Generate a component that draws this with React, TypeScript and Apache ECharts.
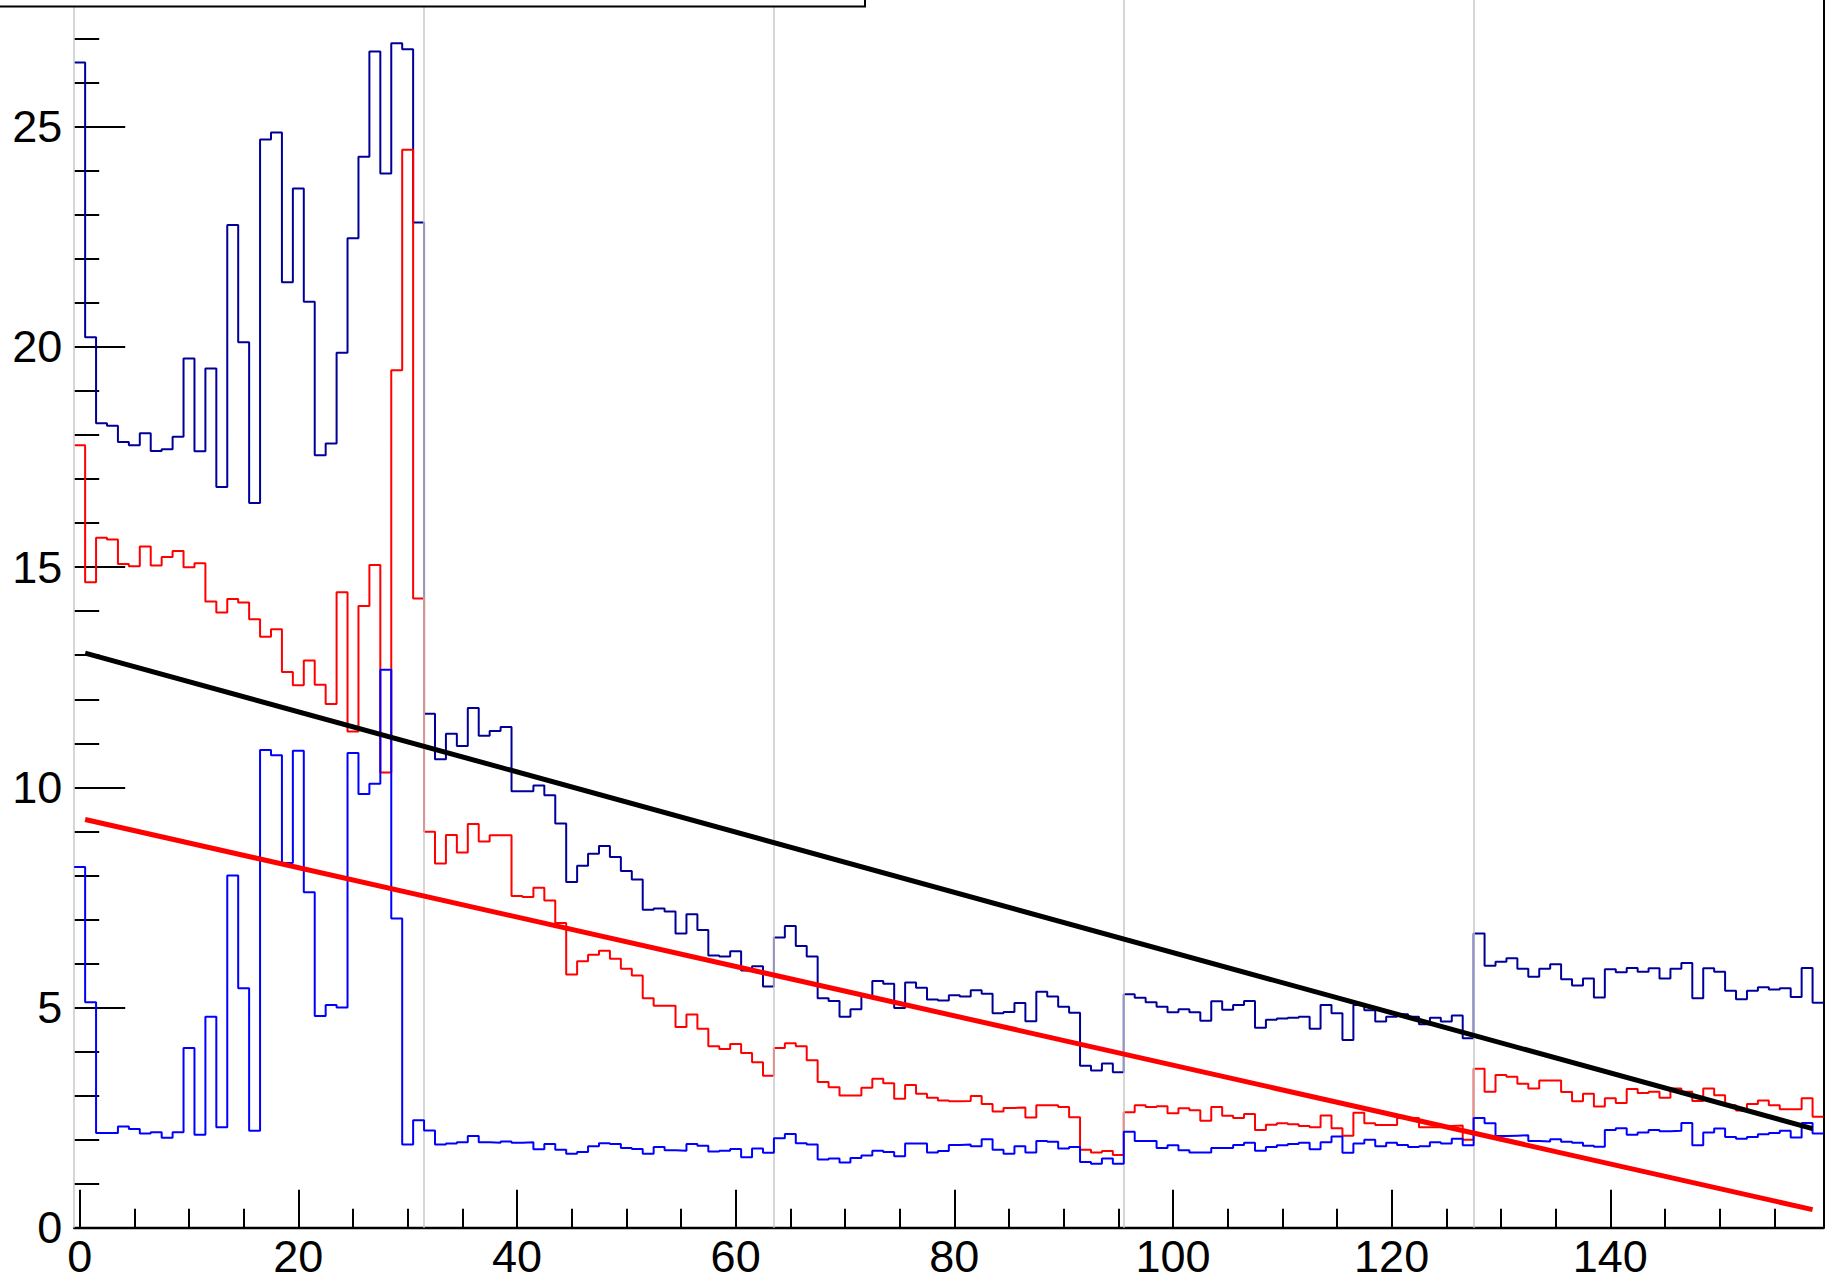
import React, { useEffect, useRef } from "react";
import * as echarts from "echarts";

// Bin contents (160 bins, centred on 0..159, width 1)
const darkBlueHist = [
  26.46, 20.22, 18.27, 18.21, 17.84, 17.77, 18.04, 17.64, 17.68, 17.96,
  19.74, 17.63, 19.51, 16.82, 22.77, 20.11, 16.46, 24.71, 24.87, 21.47,
  23.6, 21.03, 17.54, 17.81, 19.87, 22.47, 24.32, 26.71, 23.94, 26.9,
  26.76, 22.83, 11.67, 10.64, 11.22, 10.94, 11.8, 11.17, 11.28, 11.37,
  9.91, 9.91, 10.04, 9.82, 9.18, 7.85, 8.22, 8.49, 8.67, 8.42,
  8.1, 7.91, 7.22, 7.25, 7.18, 6.68, 7.12, 6.76, 6.18, 6.16,
  6.28, 5.84, 5.94, 5.48, 6.59, 6.85, 6.4, 6.16, 5.21, 5.15,
  4.79, 4.96, 5.26, 5.6, 5.54, 4.99, 5.57, 5.45, 5.18, 5.16,
  5.28, 5.25, 5.39, 5.31, 4.87, 4.9, 5.1, 4.69, 5.36, 5.25,
  5.02, 4.88, 3.68, 3.57, 3.73, 3.53, 5.3, 5.22, 5.12, 5.02,
  4.89, 4.96, 4.89, 4.7, 5.14, 4.95, 5.06, 5.15, 4.54, 4.72,
  4.75, 4.77, 4.79, 4.52, 5.06, 4.87, 4.26, 5.06, 4.94, 4.68,
  4.79, 4.85, 4.79, 4.62, 4.77, 4.68, 4.82, 4.3, 6.68, 5.95,
  6.04, 6.12, 5.88, 5.7, 5.88, 5.98, 5.64, 5.5, 5.66, 5.23,
  5.87, 5.8, 5.9, 5.81, 5.89, 5.66, 5.88, 6.01, 5.21, 5.89,
  5.81, 5.38, 5.19, 5.38, 5.46, 5.41, 5.44, 5.24, 5.9, 5.11,
];

const redHist = [
  17.77, 14.66, 15.67, 15.63, 15.07, 15.02, 15.47, 15.04, 15.23, 15.37,
  15.0, 15.09, 14.22, 13.97, 14.28, 14.2, 13.82, 13.42, 13.59, 12.62,
  12.32, 12.88, 12.33, 11.89, 14.43, 11.27, 14.12, 15.05, 10.34, 19.47,
  24.48, 14.29, 8.99, 8.27, 8.92, 8.52, 9.17, 8.77, 8.91, 8.91,
  7.53, 7.51, 7.72, 7.43, 6.92, 5.75, 6.05, 6.2, 6.29, 6.11,
  5.88, 5.73, 5.21, 5.04, 5.04, 4.56, 4.84, 4.52, 4.12, 4.06,
  4.17, 3.97, 3.76, 3.45, 4.08, 4.19, 4.12, 3.8, 3.31, 3.19,
  3.0, 3.0, 3.18, 3.38, 3.28, 2.93, 3.24, 3.04, 2.95, 2.89,
  2.87, 2.88, 2.99, 2.81, 2.64, 2.72, 2.73, 2.5, 2.78, 2.78,
  2.74, 2.51, 1.77, 1.71, 1.74, 1.65, 2.62, 2.78, 2.74, 2.76,
  2.6, 2.71, 2.67, 2.43, 2.74, 2.54, 2.49, 2.58, 2.22, 2.34,
  2.37, 2.35, 2.31, 2.28, 2.55, 2.26, 2.09, 2.61, 2.37, 2.33,
  2.33, 2.49, 2.49, 2.28, 2.28, 2.31, 2.32, 2.0, 3.61, 3.09,
  3.47, 3.43, 3.27, 3.16, 3.34, 3.34, 3.08, 2.87, 3.04, 2.75,
  2.94, 2.83, 3.15, 3.06, 3.09, 2.95, 3.16, 3.09, 2.88, 3.16,
  3.01, 2.78, 2.66, 2.81, 2.89, 2.78, 2.69, 2.69, 2.94, 2.52,
];

const blueHist = [
  8.19, 5.12, 2.15, 2.15, 2.3, 2.24, 2.14, 2.17, 2.04, 2.17,
  4.08, 2.11, 4.79, 2.28, 8.0, 5.44, 2.2, 10.85, 10.73, 8.28,
  10.83, 7.62, 4.81, 5.06, 5.0, 10.78, 9.85, 10.08, 12.67, 7.02,
  1.89, 2.44, 2.21, 1.89, 1.91, 1.94, 2.08, 1.94, 1.93, 1.96,
  1.93, 1.94, 1.78, 1.9, 1.77, 1.68, 1.72, 1.85, 1.92, 1.9,
  1.81, 1.79, 1.68, 1.83, 1.76, 1.75, 1.9, 1.86, 1.73, 1.75,
  1.79, 1.6, 1.8, 1.7, 2.03, 2.13, 1.92, 1.89, 1.55, 1.57,
  1.48, 1.58, 1.64, 1.75, 1.72, 1.62, 1.91, 1.91, 1.71, 1.74,
  1.88, 1.89, 1.85, 2.01, 1.77, 1.68, 1.85, 1.71, 1.97, 1.95,
  1.8, 1.83, 1.49, 1.45, 1.57, 1.45, 2.18, 1.97, 1.97, 1.81,
  1.87, 1.76, 1.71, 1.71, 1.81, 1.81, 1.88, 1.93, 1.75, 1.83,
  1.87, 1.9, 1.93, 1.78, 1.94, 2.07, 1.7, 1.91, 2.0, 1.85,
  1.93, 1.88, 1.83, 1.85, 1.94, 1.91, 2.02, 1.87, 2.49, 2.37,
  2.08, 2.09, 2.1, 1.97, 1.96, 2.01, 1.95, 1.93, 1.86, 1.84,
  2.22, 2.26, 2.11, 2.16, 2.22, 2.19, 2.2, 2.38, 1.87, 2.16,
  2.25, 2.06, 2.02, 2.06, 2.12, 2.15, 2.2, 2.05, 2.38, 2.14,
];

// Straight fit lines (x range and end values)
const fitX = [0.5, 158.5];
const blackFitY = [13.05, 2.25];
const redFitY = [9.27, 0.41];

// Axis ticks / labels
const xMajorTicks = [0, 20, 40, 60, 80, 100, 120, 140];
const xMinorTicks = [
  5, 10, 15, 25, 30, 35, 45, 50, 55, 65, 70, 75, 85, 90, 95,
  105, 110, 115, 125, 130, 135, 145, 150, 155,
];
const yMajorTicks = [0, 5, 10, 15, 20, 25];
const yMinorTicks = [
  1, 2, 3, 4, 6, 7, 8, 9, 11, 12, 13, 14, 16, 17, 18, 19,
  21, 22, 23, 24, 26, 27,
];
const moduleEdges = [-0.5, 31.5, 63.5, 95.5, 127.5];

const X_MIN = -0.5;
const X_MAX = 159.5;
const Y_MAX = 27.88;

const FONT = "'Liberation Sans', Arial, Helvetica, sans-serif";

function histPoints(vals: number[]): number[][] {
  const pts = vals.map((v, i) => [i - 0.5, v]);
  pts.push([vals.length - 0.5, vals[vals.length - 1]]);
  return pts;
}

export default function App() {
  const ref = useRef<HTMLDivElement>(null);

  useEffect(() => {
    if (!ref.current) return;
    const chart = echarts.init(ref.current, null, { renderer: "svg" });

    const histSeries = (name: string, vals: number[], color: string, z: number) => ({
      name,
      type: "line",
      step: "end",
      data: histPoints(vals),
      symbol: "none",
      showSymbol: false,
      lineStyle: { color, width: 2 },
      z,
      silent: true,
    });

    const fitSeries = (name: string, ys: number[], color: string) => ({
      name,
      type: "line",
      data: fitX.map((x, i) => [x, ys[i]]),
      symbol: "none",
      showSymbol: false,
      lineStyle: { color, width: 5 },
      z: 6,
      silent: true,
    });

    chart.setOption({
      animation: false,
      backgroundColor: "#ffffff",
      grid: {
        left: 74.2,
        right: 14.5,
        top: 0,
        bottom: 53.3,
        containLabel: false,
        outerBoundsMode: "none",
      },
      xAxis: [
        {
          type: "value",
          min: X_MIN,
          max: X_MAX,
          position: "bottom",
          axisLine: { show: true, onZero: false, lineStyle: { color: "#000", width: 2.4 } },
          axisTick: {
            show: true,
            inside: true,
            length: 38,
            customValues: xMajorTicks,
            lineStyle: { color: "#000", width: 2 },
          },
          axisLabel: {
            show: true,
            customValues: xMajorTicks,
            fontSize: 45,
            fontFamily: FONT,
            color: "#000",
            margin: 6,
          },
          splitLine: { show: false },
        },
        {
          type: "value",
          min: X_MIN,
          max: X_MAX,
          position: "bottom",
          axisLine: { show: false, onZero: false },
          axisTick: {
            show: true,
            inside: true,
            length: 19,
            customValues: xMinorTicks,
            lineStyle: { color: "#000", width: 2 },
          },
          axisLabel: { show: false },
          splitLine: { show: false },
        },
      ],
      yAxis: [
        {
          type: "value",
          min: 0,
          max: Y_MAX,
          position: "left",
          axisLine: { show: false, onZero: false },
          axisTick: {
            show: true,
            inside: true,
            length: 51,
            customValues: yMajorTicks,
            lineStyle: { color: "#000", width: 2 },
          },
          axisLabel: {
            show: true,
            customValues: yMajorTicks,
            fontSize: 45,
            fontFamily: FONT,
            color: "#000",
            margin: 12,
          },
          splitLine: { show: false },
        },
        {
          type: "value",
          min: 0,
          max: Y_MAX,
          position: "left",
          axisLine: { show: false, onZero: false },
          axisTick: {
            show: true,
            inside: true,
            length: 25,
            customValues: yMinorTicks,
            lineStyle: { color: "#000", width: 2 },
          },
          axisLabel: { show: false },
          splitLine: { show: false },
        },
        {
          type: "value",
          min: 0,
          max: Y_MAX,
          position: "right",
          axisLine: { show: true, onZero: false, lineStyle: { color: "#000", width: 2 } },
          axisTick: { show: false },
          axisLabel: { show: false },
          splitLine: { show: false },
        },
      ],
      series: [
        {
          name: "modules",
          type: "line",
          data: [],
          z: 1,
          silent: true,
          markLine: {
            silent: true,
            symbol: ["none", "none"],
            label: { show: false },
            lineStyle: { color: "#c8c8c8", width: 1.5, type: "solid" },
            data: moduleEdges.map((x) => ({ xAxis: x })),
          },
        },
        histSeries("upper", darkBlueHist, "#000099", 3),
        histSeries("middle", redHist, "#ff0000", 4),
        histSeries("lower", blueHist, "#0000ff", 5),
        fitSeries("fitBlack", blackFitY, "#000000"),
        fitSeries("fitRed", redFitY, "#ff0000"),
      ],
      graphic: [
        {
          type: "rect",
          z: 100,
          shape: { x: -10, y: -60, width: 875, height: 66.5 },
          style: { fill: "#ffffff", stroke: "#000000", lineWidth: 2 },
        },
      ],
    });

    return () => chart.dispose();
  }, []);

  return (
    <div
      ref={ref}
      style={{ position: "absolute", left: 0, top: 0, width: 1838, height: 1281 }}
    />
  );
}
